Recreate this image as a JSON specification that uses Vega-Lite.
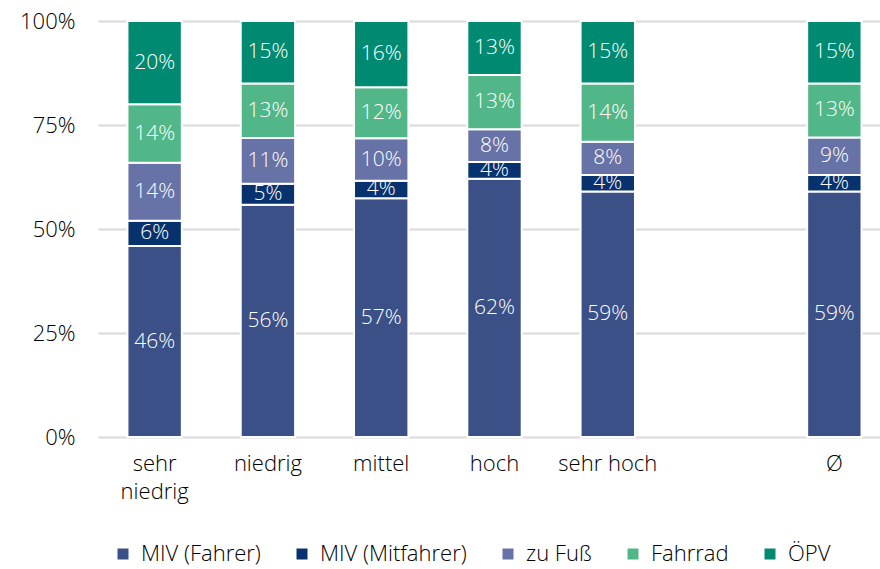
{
  "$schema": "https://vega.github.io/schema/vega-lite/v6.json",
  "width": 782,
  "height": 416,
  "autosize": {"type": "none"},
  "padding": {"left": 98, "top": 21, "right": 0, "bottom": 132},
  "background": "white",
  "config": {
    "view": {"stroke": null},
    "font": "Open Sans",
    "axis": {"labelFont": "Open Sans", "labelFontSize": 22, "labelFontWeight": 300, "labelColor": "#000000"},
    "legend": {"labelFont": "Open Sans", "labelFontSize": 22, "labelFontWeight": 300, "labelColor": "#000000"}
  },
  "data": {
    "values": [
      {"cat": "sehr niedrig", "mode": "MIV (Fahrer)", "o": 1, "v": 0.459},
      {"cat": "sehr niedrig", "mode": "MIV (Mitfahrer)", "o": 2, "v": 0.061},
      {"cat": "sehr niedrig", "mode": "zu Fuß", "o": 3, "v": 0.139},
      {"cat": "sehr niedrig", "mode": "Fahrrad", "o": 4, "v": 0.141},
      {"cat": "sehr niedrig", "mode": "ÖPV", "o": 5, "v": 0.200},
      {"cat": "niedrig", "mode": "MIV (Fahrer)", "o": 1, "v": 0.558},
      {"cat": "niedrig", "mode": "MIV (Mitfahrer)", "o": 2, "v": 0.051},
      {"cat": "niedrig", "mode": "zu Fuß", "o": 3, "v": 0.110},
      {"cat": "niedrig", "mode": "Fahrrad", "o": 4, "v": 0.131},
      {"cat": "niedrig", "mode": "ÖPV", "o": 5, "v": 0.150},
      {"cat": "mittel", "mode": "MIV (Fahrer)", "o": 1, "v": 0.574},
      {"cat": "mittel", "mode": "MIV (Mitfahrer)", "o": 2, "v": 0.042},
      {"cat": "mittel", "mode": "zu Fuß", "o": 3, "v": 0.102},
      {"cat": "mittel", "mode": "Fahrrad", "o": 4, "v": 0.123},
      {"cat": "mittel", "mode": "ÖPV", "o": 5, "v": 0.159},
      {"cat": "hoch", "mode": "MIV (Fahrer)", "o": 1, "v": 0.621},
      {"cat": "hoch", "mode": "MIV (Mitfahrer)", "o": 2, "v": 0.040},
      {"cat": "hoch", "mode": "zu Fuß", "o": 3, "v": 0.079},
      {"cat": "hoch", "mode": "Fahrrad", "o": 4, "v": 0.130},
      {"cat": "hoch", "mode": "ÖPV", "o": 5, "v": 0.130},
      {"cat": "sehr hoch", "mode": "MIV (Fahrer)", "o": 1, "v": 0.590},
      {"cat": "sehr hoch", "mode": "MIV (Mitfahrer)", "o": 2, "v": 0.040},
      {"cat": "sehr hoch", "mode": "zu Fuß", "o": 3, "v": 0.080},
      {"cat": "sehr hoch", "mode": "Fahrrad", "o": 4, "v": 0.140},
      {"cat": "sehr hoch", "mode": "ÖPV", "o": 5, "v": 0.150},
      {"cat": "Ø", "mode": "MIV (Fahrer)", "o": 1, "v": 0.590},
      {"cat": "Ø", "mode": "MIV (Mitfahrer)", "o": 2, "v": 0.040},
      {"cat": "Ø", "mode": "zu Fuß", "o": 3, "v": 0.090},
      {"cat": "Ø", "mode": "Fahrrad", "o": 4, "v": 0.130},
      {"cat": "Ø", "mode": "ÖPV", "o": 5, "v": 0.150}
    ]
  },
  "transform": [
    {"stack": "v", "groupby": ["cat"], "sort": [{"field": "o", "order": "ascending"}], "as": ["y0", "y1"]},
    {"calculate": "(datum.y0 + datum.y1) / 2", "as": "mid"}
  ],
  "encoding": {
    "x": {
      "field": "cat",
      "type": "nominal",
      "title": null,
      "scale": {
        "domain": ["sehr niedrig", "niedrig", "mittel", "hoch", "sehr hoch", " ", "Ø"],
        "range": [0, 793],
        "paddingInner": 0.52,
        "paddingOuter": 0.26
      },
      "axis": {
        "domain": false,
        "ticks": false,
        "grid": false,
        "labelAngle": 0,
        "labelPadding": 16,
        "labelLineHeight": 28,
        "labelExpr": "datum.label == 'sehr niedrig' ? ['sehr', 'niedrig'] : datum.label"
      }
    }
  },
  "layer": [
    {
      "mark": {"type": "bar", "stroke": "white", "strokeWidth": 2},
      "encoding": {
        "y": {
          "field": "y0",
          "type": "quantitative",
          "title": null,
          "scale": {"domain": [0, 1], "nice": false},
          "axis": {
            "values": [0, 0.25, 0.5, 0.75, 1],
            "format": ".0%",
            "domain": false,
            "ticks": false,
            "gridColor": "#d9d9d9",
            "gridWidth": 2,
            "labelPadding": 23
          }
        },
        "y2": {"field": "y1"},
        "color": {
          "field": "mode",
          "type": "nominal",
          "scale": {
            "domain": ["MIV (Fahrer)", "MIV (Mitfahrer)", "zu Fuß", "Fahrrad", "ÖPV"],
            "range": ["#3a5087", "#08326e", "#6772a6", "#52b788", "#008a72"]
          },
          "legend": {
            "title": null,
            "orient": "none",
            "direction": "horizontal",
            "legendX": 14,
            "legendY": 522,
            "symbolType": "square",
            "symbolSize": 121,
            "symbolStrokeWidth": 0,
            "labelOffset": 7,
            "columnPadding": 30
          }
        }
      }
    },
    {
      "mark": {"type": "text", "color": "white", "fontSize": 21, "fontWeight": 300, "font": "Open Sans", "baseline": "middle"},
      "encoding": {
        "y": {"field": "mid", "type": "quantitative"},
        "text": {"field": "v", "type": "quantitative", "format": ".0%"}
      }
    }
  ]
}
